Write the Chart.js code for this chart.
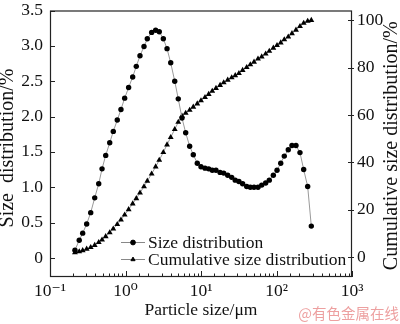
<!DOCTYPE html>
<html>
<head>
<meta charset="utf-8">
<script src="https://cdn.jsdelivr.net/npm/chart.js@4.4.0/dist/chart.umd.min.js"></script>
<style>
html, body { margin: 0; padding: 0; background: #fff; }
</style>
</head>
<body>
<canvas id="chart_size" width="400" height="324"></canvas>
<script>

// particle size (um) of each measured point
var sizes = [0.214, 0.244, 0.271, 0.306, 0.346, 0.391, 0.442, 0.489, 0.547, 0.618,
    0.689, 0.778, 0.871, 0.975, 1.10, 1.245, 1.39, 1.556, 1.758, 1.945,
    2.22, 2.51, 2.80, 3.17, 3.55, 3.97, 4.49, 5.0, 5.6, 6.27,
    7.08, 7.91, 8.93, 10.0, 11.3, 12.65, 14.1, 15.8, 17.9, 20.0,
    22.6, 25.5, 28.4, 31.8, 35.6, 40.3, 45.0, 50.4, 56.9, 63.7,
    71.9, 80.3, 90.8, 101.6, 113.8, 126.8, 143.2, 160.3, 181.1, 204.6,
    229.1, 258.8, 289.1]

// size distribution, %
var sizeDist = [0.11, 0.25, 0.35, 0.48, 0.64, 0.85, 1.05, 1.26, 1.45, 1.63,
    1.79, 1.95, 2.1, 2.26, 2.41, 2.56, 2.71, 2.86, 2.99, 3.1,
    3.19, 3.22, 3.2, 3.1, 2.96, 2.76, 2.5, 2.25, 1.98, 1.77,
    1.58, 1.46, 1.34, 1.29, 1.27, 1.26, 1.24, 1.24, 1.21, 1.2,
    1.17, 1.14, 1.1, 1.08, 1.05, 1.01, 1.0, 1.0, 1.0, 1.03,
    1.06, 1.1, 1.17, 1.24, 1.34, 1.44, 1.53, 1.59, 1.59, 1.49,
    1.25, 1.01, 0.45]

// cumulative size distribution, %
var cumDist = [2.0, 2.4, 2.9, 3.5, 4.2, 5.1, 6.3, 7.4, 8.8, 10.4,
    12.0, 13.9, 15.8, 17.9, 20.2, 22.6, 24.8, 27.2, 29.8, 32.2,
    35.2, 38.2, 41.0, 44.3, 47.5, 50.6, 54.0, 57.0, 59.6, 60.8,
    62.1, 63.4, 64.8, 66.1, 67.5, 68.8, 70.1, 71.3, 72.6, 73.7,
    74.8, 75.8, 76.7, 77.6, 78.9, 80.1, 81.3, 82.4, 83.7, 84.6,
    85.8, 87.0, 88.3, 89.4, 90.5, 91.8, 93.0, 94.4, 95.9, 97.4,
    98.8, 99.6, 100]

var xTicks = [0.1, 1, 10, 100, 1000]
var xTickLabels = ['10\u207B\u00B9', '10\u2070', '10\u00B9', '10\u00B2', '10\u00B3']
var seriesLabels = ['Size distribution', 'Cumulative size distribution']
var xTitle = 'Particle size/\u03BCm'
var yTitle = 'Size  distribution/%'
var y1Title = 'Cumulative size distribution/%'
var watermark = '@有色金属在线'

var serif = '"Liberation Serif", "DejaVu Serif", serif'
Chart.defaults.font.family = serif
Chart.defaults.font.size = 17.5
Chart.defaults.color = '#111'

function toPoints(vals) {
    return vals.map(function(v, i) { return { x: sizes[i], y: v } })
}

function isDecade(v) {
    var l = Math.log10(v)
    return Math.abs(l - Math.round(l)) < 1e-6
}

// box, inward ticks, legend, side titles and watermark
var decorPlugin = {
    id: 'decor',
    afterDatasetsDraw: function(chart) {
        var ctx = chart.ctx
        var a = chart.chartArea
        var sx = chart.scales.x, sy = chart.scales.y, sy1 = chart.scales.y1
        ctx.save()
        ctx.strokeStyle = '#222'
        ctx.lineWidth = 1.2
        ctx.strokeRect(a.left + 0.5, a.top + 0.5, a.right - a.left - 1, a.bottom - a.top - 1)

        ctx.lineWidth = 1
        ctx.beginPath()
        sx.ticks.forEach(function(t) {
            var px = Math.round(sx.getPixelForValue(t.value)) + 0.5
            var len = isDecade(t.value) ? 6 : 3.5
            ctx.moveTo(px, a.bottom)
            ctx.lineTo(px, a.bottom - len)
        })
        sy.ticks.forEach(function(t) {
            var py = Math.round(sy.getPixelForValue(t.value)) + 0.5
            ctx.moveTo(a.left, py)
            ctx.lineTo(a.left + 5, py)
        })
        sy1.ticks.forEach(function(t) {
            var py = Math.round(sy1.getPixelForValue(t.value)) + 0.5
            ctx.moveTo(a.right - 4, py)
            ctx.lineTo(a.right + 2, py)
        })
        ctx.stroke()

        // legend
        ctx.font = '17.5px ' + serif
        ctx.textBaseline = 'middle'
        ctx.textAlign = 'left'
        chart.data.datasets.forEach(function(ds, i) {
            var ly = a.bottom - 35 + i * 17
            var lx = 121
            ctx.strokeStyle = '#888'
            ctx.lineWidth = 1
            ctx.beginPath()
            ctx.moveTo(lx, ly + 0.5)
            ctx.lineTo(lx + 24, ly + 0.5)
            ctx.stroke()
            ctx.fillStyle = '#000'
            ctx.strokeStyle = '#000'
            Chart.helpers.drawPoint(ctx, { pointStyle: ds.pointStyle, radius: 2.4, borderWidth: 1, rotation: 0 }, lx + 12, ly + 0.5)
            ctx.fillStyle = '#111'
            ctx.fillText(ds.label, lx + 27, ly + 1)
        })

        // side titles, both reading bottom to top
        ctx.font = '20px ' + serif
        ctx.textAlign = 'center'
        ctx.fillStyle = '#111'
        ctx.save()
        ctx.translate(8, 148)
        ctx.rotate(-Math.PI / 2)
        ctx.fillText(yTitle, 0, 0)
        ctx.restore()
        ctx.save()
        ctx.translate(392, (a.top + a.bottom) / 2 + 2)
        ctx.rotate(-Math.PI / 2)
        ctx.fillText(y1Title, 0, 0)
        ctx.restore()

        ctx.font = '14.5px "Noto Sans CJK SC"'
        ctx.fillStyle = 'rgba(230, 120, 120, 0.7)'
        ctx.textAlign = 'right'
        ctx.fillText(watermark, 399, 313)
        ctx.restore()
    }
}

var ctx = document.getElementById('chart_size')

var chartSize = new Chart(ctx, {
    type: 'line',
    data: {
        datasets: [{
            label: seriesLabels[0],
            data: toPoints(sizeDist),
            yAxisID: 'y',
            borderColor: '#9a9a9a',
            borderWidth: 1,
            pointStyle: 'circle',
            pointRadius: 2.7,
            pointBackgroundColor: '#000',
            pointBorderColor: '#000',
            pointBorderWidth: 0,
            tension: 0,
        }, {
            label: seriesLabels[1],
            data: toPoints(cumDist),
            yAxisID: 'y1',
            borderColor: '#9a9a9a',
            borderWidth: 1,
            pointStyle: 'triangle',
            pointRadius: 3.4,
            pointBackgroundColor: '#000',
            pointBorderColor: '#000',
            pointBorderWidth: 0,
            tension: 0,
        }]
    },
    options: {
        responsive: false,
        animation: false,
        layout: { padding: { top: 4, left: 0, right: 0, bottom: 0 } },
        plugins: {
            legend: { display: false },
            tooltip: { enabled: false },
        },
        scales: {
            x: {
                type: 'logarithmic',
                min: 0.1,
                max: 1000,
                grid: { display: false, drawTicks: false },
                border: { display: false },
                ticks: {
                    autoSkip: false,
                    maxRotation: 0,
                    padding: 4,
                    callback: function(value) {
                        if (!isDecade(value)) return ''
                        var i = xTicks.findIndex(function(t) { return Math.abs(t - value) < 1e-6 * t })
                        return i >= 0 ? xTickLabels[i] : ''
                    }
                },
                title: { display: true, text: xTitle, padding: { top: 2, bottom: 3 } },
                afterFit: function(s) { s.height = 47 }
            },
            y: {
                position: 'left',
                min: -0.27,
                max: 3.5,
                grid: { display: false, drawTicks: false },
                border: { display: false },
                ticks: {
                    stepSize: 0.5,
                    includeBounds: false,
                    padding: 7,
                    font: { lineHeight: 0.4 },
                    callback: function(value) { return value === 0 ? '0' : value.toFixed(1) }
                },
                afterFit: function(s) { s.width = 50 }
            },
            y1: {
                position: 'right',
                min: -8.3,
                max: 104.1,
                grid: { display: false, drawTicks: false },
                border: { display: false },
                ticks: {
                    stepSize: 20,
                    includeBounds: false,
                    padding: 5,
                    font: { lineHeight: 0.4 },
                },
                afterFit: function(s) { s.width = 48 }
            }
        }
    },
    plugins: [decorPlugin]
});

</script>
</body>
</html>
